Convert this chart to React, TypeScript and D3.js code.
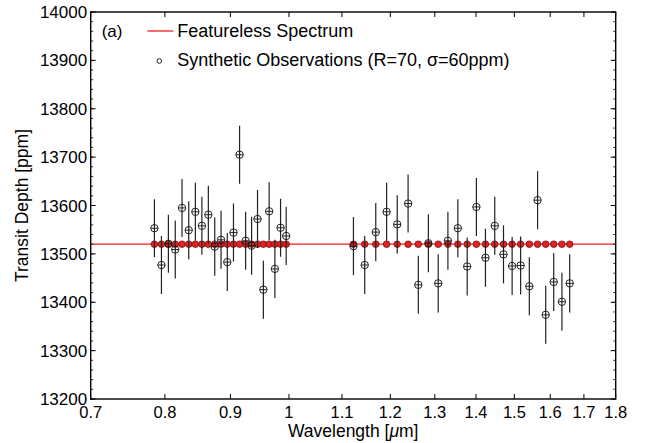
import React from "react";
import * as d3 from "d3";

// ---- Data ----
const wlVis = [0.785, 0.795, 0.805, 0.815, 0.825, 0.835, 0.845, 0.855, 0.865, 0.875, 0.885,
  0.895, 0.905, 0.915, 0.925, 0.935, 0.945, 0.955, 0.965, 0.975, 0.985, 0.995];
const obsVis = [13553, 13477, 13521, 13509, 13595, 13549, 13587, 13558, 13581, 13515, 13529,
  13483, 13544, 13705, 13527, 13517, 13572, 13426, 13588, 13469, 13554, 13537];
const wlIR = [1.123, 1.146, 1.169, 1.192, 1.215, 1.239, 1.262, 1.285, 1.308, 1.331, 1.355, 1.378,
  1.401, 1.424, 1.448, 1.471, 1.494, 1.517, 1.541, 1.564, 1.587, 1.610, 1.634, 1.657];
const obsIR = [13516, 13477, 13545, 13587, 13561, 13604, 13436, 13522, 13439, 13527, 13553, 13474,
  13597, 13492, 13558, 13499, 13475, 13476, 13433, 13611, 13374, 13442, 13401, 13439];
const featureless = 13520;
const sigma = 60;
const xTicks = [0.7, 0.8, 0.9, 1, 1.1, 1.2, 1.3, 1.4, 1.5, 1.6, 1.7, 1.8];
const yTicks = [13200, 13300, 13400, 13500, 13600, 13700, 13800, 13900, 14000];
const yMinor = d3.range(13200, 14001, 20);

const W = 646, H = 443;
const L = 90.7, R = 615.7, T = 12, B = 399;
const FONT = "'Liberation Sans', Arial, Helvetica, sans-serif";

export default function App() {
  const x = d3.scaleLog().domain([0.7, 1.8]).range([L, R]);
  const y = d3.scaleLinear().domain([13200, 14000]).range([B, T]);
  const wl = [...wlVis, ...wlIR];
  const obs = [...obsVis, ...obsIR];
  const r = 3.7;
  return (
    <div style={{ position: "absolute", left: 0, top: 0 }}>
      <svg width={W} height={H} style={{ display: "block", background: "#fff" }}>
        <rect x={0} y={0} width={W} height={H} fill="#fff" />
        {/* model line */}
        <line x1={L} x2={R} y1={y(featureless)} y2={y(featureless)} stroke="#ff1a1a" strokeWidth={1.3} />
        {/* model points */}
        {wl.map((w, i) => (
          <circle key={"m" + i} cx={x(w)} cy={y(featureless)} r={3.3} fill="#e32222" stroke="#6e1010" strokeWidth={0.8} />
        ))}
        {/* error bars */}
        {wl.map((w, i) => (
          <line key={"e" + i} x1={x(w)} x2={x(w)} y1={y(obs[i] - sigma)} y2={y(obs[i] + sigma)} stroke="#222" strokeWidth={1.2} />
        ))}
        {/* observation markers */}
        {wl.map((w, i) => (
          <g key={"o" + i}>
            <circle cx={x(w)} cy={y(obs[i])} r={r} fill="none" stroke="#111" strokeWidth={0.9} />
            <line x1={x(w) - r} x2={x(w) + r} y1={y(obs[i])} y2={y(obs[i])} stroke="#111" strokeWidth={0.9} />
          </g>
        ))}
        {/* axes box */}
        <rect x={L} y={T} width={R - L} height={B - T} fill="none" stroke="#000" strokeWidth={1.4} />
        {/* y minor ticks */}
        {yMinor.map((v) => (
          <g key={"ym" + v}>
            <line x1={L} x2={L + 2.5} y1={y(v)} y2={y(v)} stroke="#000" strokeWidth={0.8} />
            <line x1={R} x2={R - 2.5} y1={y(v)} y2={y(v)} stroke="#000" strokeWidth={0.8} />
          </g>
        ))}
        {/* y major ticks */}
        {yTicks.map((v) => (
          <g key={"y" + v}>
            <line x1={L} x2={L + 5} y1={y(v)} y2={y(v)} stroke="#000" strokeWidth={1} />
            <line x1={R} x2={R - 5} y1={y(v)} y2={y(v)} stroke="#000" strokeWidth={1} />
            <text x={L - 3.5} y={y(v) + 6} textAnchor="end" fontFamily={FONT} fontSize={17} fill="#000">{v}</text>
          </g>
        ))}
        {/* x ticks */}
        {xTicks.map((v) => (
          <g key={"x" + v}>
            <line x1={x(v)} x2={x(v)} y1={B} y2={B - 5} stroke="#000" strokeWidth={1} />
            <line x1={x(v)} x2={x(v)} y1={T} y2={T + 5} stroke="#000" strokeWidth={1} />
            <text x={x(v)} y={417.5} textAnchor="middle" fontFamily={FONT} fontSize={16.5} fill="#000">{String(v)}</text>
          </g>
        ))}
        {/* axis labels */}
        <text x={(L + R) / 2} y={437} textAnchor="middle" fontFamily={FONT} fontSize={17.5} fill="#000">
          Wavelength [<tspan fontStyle="italic">μ</tspan>m]
        </text>
        <text transform={`translate(28,${(T + B) / 2}) rotate(-90)`} textAnchor="middle" fontFamily={FONT} fontSize={17.5} fill="#000">
          Transit Depth [ppm]
        </text>
        {/* legend */}
        <text x={101.7} y={37} fontFamily={FONT} fontSize={17} fill="#000">(a)</text>
        <line x1={147.3} x2={173.3} y1={31} y2={31} stroke="#ff1a1a" strokeWidth={1.3} />
        <text x={177.3} y={37} fontFamily={FONT} fontSize={18} fill="#000">Featureless Spectrum</text>
        <circle cx={159.3} cy={61} r={2.3} fill="none" stroke="#111" strokeWidth={0.9} />
        <text x={177.3} y={66} fontFamily={FONT} fontSize={18} fill="#000">Synthetic Observations (R=70, σ=60ppm)</text>
      </svg>
    </div>
  );
}
